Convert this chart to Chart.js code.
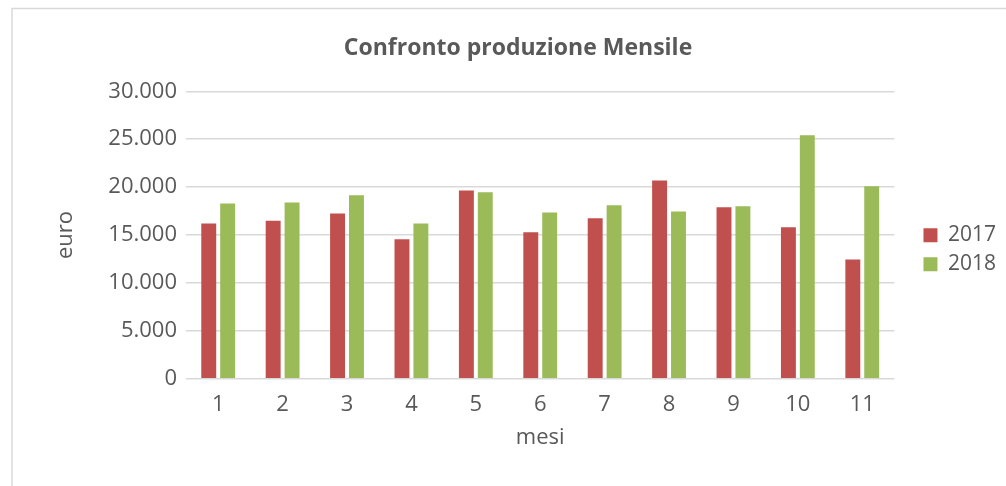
<!DOCTYPE html>
<html>
<head>
<meta charset="utf-8">
<script src="https://cdn.jsdelivr.net/npm/chart.js@4/dist/chart.umd.min.js"></script>
<style>
  body { margin: 0; background: #fff; }
  #wrap { position: relative; width: 1006px; height: 486px; }
</style>
</head>
<body>
<div id="wrap"><canvas id="prodChart"></canvas></div>
<script>
// months and monthly production (euro)
var mesi = ["1", "2", "3", "4", "5", "6", "7", "8", "9", "10", "11"];
var prod2017 = [16200, 16500, 17250, 14550, 19650, 15300, 16750, 20700, 17900, 15800, 12450];
var prod2018 = [18300, 18400, 19150, 16200, 19450, 17350, 18100, 17450, 18000, 25400, 20100];
var yTicks = [0, 5000, 10000, 15000, 20000, 25000, 30000];

var grigio = '#595959';
var font = { family: "'Open Sans', sans-serif", size: 22 };
var legendFont = { family: "'Open Sans', sans-serif", size: 21 };

// 30000 -> "30.000"
function formatEuro(v) {
  return String(v).replace(/\B(?=(\d{3})+(?!\d))/g, '.');
}

// light grey frame round the chart, like the spreadsheet one
var framePlugin = {
  id: 'frame',
  beforeDraw: function (chart) {
    var ctx = chart.ctx;
    ctx.save();
    ctx.strokeStyle = '#d9d9d9';
    ctx.lineWidth = 1.5;
    ctx.strokeRect(12, 8.5, 1100, 600);
    ctx.restore();
  }
};

Chart.defaults.font.family = font.family;
Chart.defaults.color = grigio;

var ctx = document.getElementById('prodChart').getContext('2d');
var prodChart = new Chart(ctx, {
  type: 'bar',
  data: {
    labels: mesi,
    datasets: [{
      label: '2017',
      data: prod2017,
      backgroundColor: '#c0504d'
    }, {
      label: '2018',
      data: prod2018,
      backgroundColor: '#9bbb59'
    }]
  },
  options: {
    responsive: true,
    maintainAspectRatio: false,
    animation: false,
    categoryPercentage: 0.587,
    barPercentage: 0.79,
    layout: { padding: { left: 30, right: 0, top: 0, bottom: 0 } },
    scales: {
      x: {
        grid: { display: false },
        border: { display: false },
        ticks: { font: font, color: grigio, padding: 5 },
        title: { display: true, text: 'mesi', font: font, color: grigio, padding: { top: 0, bottom: 34.8 } },
        afterFit: function (s) { s.height = 107.3; }
      },
      y: {
        min: 0,
        max: 30000,
        afterBuildTicks: function (s) {
          s.ticks = yTicks.map(function (v) { return { value: v }; });
        },
        grid: { color: '#d9d9d9', lineWidth: 1.5, drawTicks: false },
        border: { display: false },
        ticks: {
          font: font,
          color: grigio,
          padding: 9,
          callback: function (v) { return formatEuro(v); }
        },
        title: { display: true, text: 'euro', font: font, color: grigio, padding: { top: 22.8, bottom: 0 } },
        afterFit: function (s) { s.width = 156; }
      },
      // empty strip between plot and legend
      gap: {
        type: 'linear',
        position: 'right',
        grid: { display: false },
        border: { display: false },
        ticks: { display: false },
        afterFit: function (s) { s.width = 21; }
      }
    },
    plugins: {
      title: {
        display: true,
        text: 'Confronto produzione Mensile',
        font: { family: font.family, size: 23, weight: 'bold' },
        color: grigio,
        padding: { top: 35, bottom: 28.7 }
      },
      legend: {
        position: 'right',
        fullSize: false,
        title: { display: true, text: '', font: legendFont, padding: { top: 4.4, bottom: 0 } },
        labels: {
          boxWidth: 14,
          boxHeight: 14,
          padding: 8,
          font: legendFont,
          color: grigio
        }
      },
      tooltip: { enabled: false }
    }
  },
  plugins: [framePlugin]
});
</script>
</body>
</html>
